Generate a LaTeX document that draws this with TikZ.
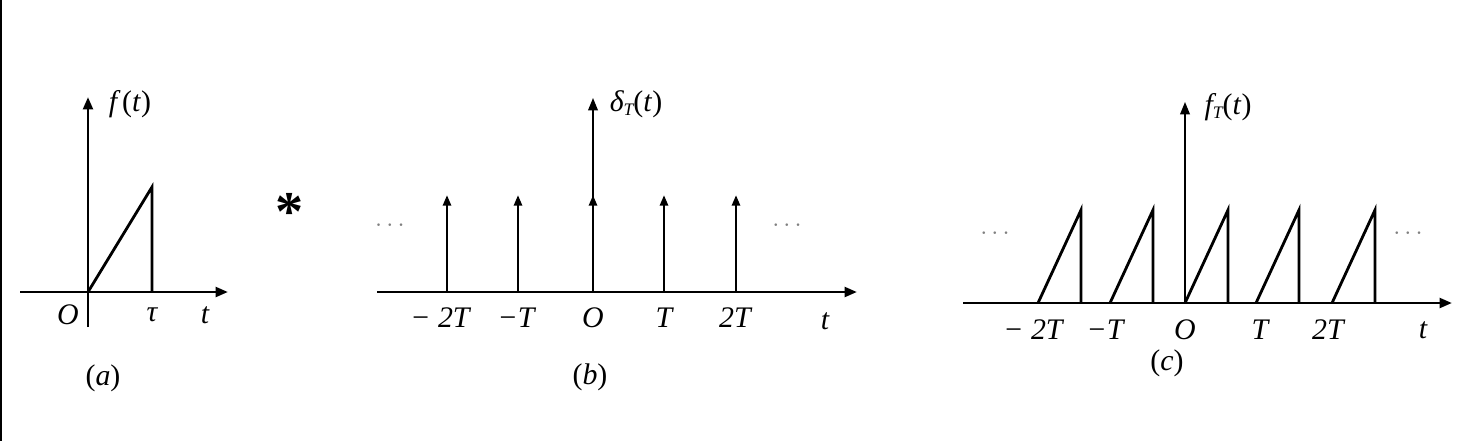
\documentclass[tikz,border=0pt]{standalone}
\usepackage{fontspec}
\setmainfont{Liberation Serif}
\usetikzlibrary{arrows.meta}
\newcommand{\upl}{\textup{(}}
\newcommand{\upr}{\textup{)}}

\begin{document}
\begin{tikzpicture}[
        x=0.02cm, y=-0.02cm,
        axis/.style={line width=1.6pt, -{Triangle[length=7pt, width=5.5pt]}},
        thinaxis/.style={line width=0.8pt, -{Triangle[length=7pt, width=5.5pt]}},
        impulse/.style={line width=1.6pt, -{Triangle[length=6pt, width=4.5pt]}},
        wave/.style={line width=1.6pt, line join=miter},
        lbl/.style={font=\fontsize{17}{20}\selectfont\itshape, inner sep=0pt},
        dots/.style={font=\fontsize{14}{16}\selectfont, text=gray, inner sep=0pt}
    ]
    \useasboundingbox (0,0) rectangle (1476,441);
    \fill[black] (0,0) rectangle (2,441);

    % (a) single ramp
    \coordinate (aL) at (20,292);
    \coordinate (aR) at (228,292);
    \coordinate (aB) at (88,327);
    \coordinate (aT) at (88,97);
    \coordinate (a0) at (88,292);
    \coordinate (aP) at (152,187);
    \coordinate (aQ) at (152,292);
    \draw[axis] (aL) -- (aR);
    \draw[axis] (aB) -- (aT);
    \draw[wave] (a0) -- (aP) -- (aQ);
    \node[lbl] (fa) at (130,104) {f\,\upl t\upr};
    \node[lbl] (aO) at (68,315) {O};
    \node[lbl] (atau) at (152,315) {τ};
    \node[lbl] (at) at (205,315) {t};
    \node[lbl] (capa) at (103,378) {\upl a\upr};

    \node[font=\fontsize{32}{32}\selectfont\bfseries, inner sep=0pt] (conv) at (290,212) {*};

    % (b) impulse train
    \coordinate (bL) at (377,292);
    \coordinate (bR) at (857,292);
    \coordinate (b0) at (593,292);
    \coordinate (bT) at (593,98);
    \draw[axis] (bL) -- (bR);
    \draw[thinaxis] (b0) -- (bT);
    \foreach \x/\n in {447/m2, 518/m1, 593/z, 664/p1, 736/p2} {
        \coordinate (b\n) at (\x,292);
        \coordinate (bt\n) at (\x,195);
        \draw[impulse] (b\n) -- (bt\n);
    }
    \node[lbl] (dT) at (636,104) {δ\raisebox{-0.3ex}{\fontsize{10}{10}\selectfont T}\upl t\upr};
    \node[lbl] (bm2) at (440,318) {− 2T};
    \node[lbl] (bm1) at (516,318) {−T};
    \node[lbl] (bO) at (593,318) {O};
    \node[lbl] (bT1) at (664,318) {T};
    \node[lbl] (bT2) at (735,318) {2T};
    \node[lbl] (bt) at (825,321) {t};
    \node[dots] (bdl) at (390,226) {$\cdots$};
    \node[dots] (bdr) at (787,226) {$\cdots$};
    \node[lbl] (capb) at (590,377) {\upl b\upr};

    % (c) periodic ramps
    \coordinate (cL) at (963,303);
    \coordinate (cR) at (1452,303);
    \coordinate (c0) at (1185,303);
    \coordinate (cT) at (1185,102);
    \draw[axis] (cL) -- (cR);
    \draw[thinaxis] (c0) -- (cT);
    \foreach \x/\n in {1038/m2, 1110/m1, 1185/z, 1256/p1, 1332/p2} {
        \coordinate (cs\n) at (\x,303);
        \coordinate (cp\n) at (\x+43,210);
        \coordinate (ce\n) at (\x+43,303);
        \draw[wave] (cs\n) -- (cp\n) -- (ce\n);
    }
    \node[lbl] (fT) at (1228,107) {f\raisebox{-0.3ex}{\fontsize{10}{10}\selectfont T}\upl t\upr};
    \node[lbl] (cm2) at (1033,330) {− 2T};
    \node[lbl] (cm1) at (1105,330) {−T};
    \node[lbl] (cO) at (1185,330) {O};
    \node[lbl] (cT1) at (1260,330) {T};
    \node[lbl] (cT2) at (1328,330) {2T};
    \node[lbl] (ct) at (1423,330) {t};
    \node[dots] (cdl) at (995,234) {$\cdots$};
    \node[dots] (cdr) at (1408,234) {$\cdots$};
    \node[lbl] (capc) at (1167,363) {\upl c\upr};
\end{tikzpicture}
\end{document}
